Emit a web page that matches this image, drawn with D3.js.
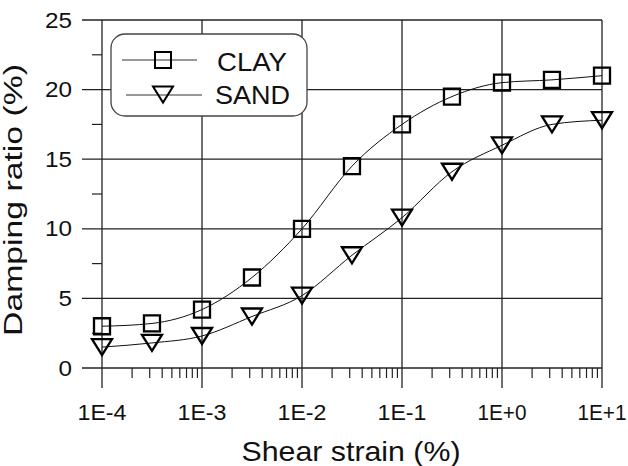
<!DOCTYPE html>
<html>
<head>
<meta charset="utf-8">
<script src="https://cdn.jsdelivr.net/npm/d3@7"></script>
<style>
  body { margin: 0; background: #fff; }
  svg text { font-family: "Liberation Sans", Arial, sans-serif; fill: #111; }
</style>
</head>
<body>
<svg id="chart"></svg>
<script>
// shear strain (%) at half-decade steps
var strain = [1e-4, 3.16e-4, 1e-3, 3.16e-3, 1e-2, 3.16e-2, 1e-1, 3.16e-1, 1, 3.16, 10];
var clay = [3.0, 3.2, 4.2, 6.5, 10.0, 14.5, 17.5, 19.5, 20.5, 20.7, 21.0];
var sand = [1.5, 1.8, 2.3, 3.7, 5.2, 8.1, 10.8, 14.1, 16.0, 17.5, 17.8];
var xTicks = [1e-4, 1e-3, 1e-2, 1e-1, 1, 10];
var xTickLabels = ["1E-4", "1E-3", "1E-2", "1E-1", "1E+0", "1E+1"];
var yTicks = [0, 5, 10, 15, 20, 25];
var seriesNames = ["CLAY", "SAND"];

var width = 628, height = 466;
var pLeft = 102, pRight = 602, pTop = 20, pBottom = 368;
var gridColor = "#222";

var svg = d3.select("#chart").attr("width", width).attr("height", height);

var x = d3.scaleLog().domain([1e-4, 10]).range([pLeft, pRight]);
var y = d3.scaleLinear().domain([0, 25]).range([pBottom, pTop]);

// minor x ticks 2..9 in every decade
var minorX = [];
for (var d = 0; d < xTicks.length - 1; d++) {
  for (var k = 2; k <= 9; k++) minorX.push(xTicks[d] * k);
}
var minorY = [2.5, 7.5, 12.5, 17.5, 22.5];

// grid
svg.append("g").selectAll("line").data(xTicks).enter().append("line")
  .attr("x1", function(d){ return x(d); }).attr("x2", function(d){ return x(d); })
  .attr("y1", pTop).attr("y2", pBottom + 20)
  .attr("stroke", gridColor).attr("stroke-width", 1.3);
svg.append("g").selectAll("line").data(yTicks).enter().append("line")
  .attr("x1", pLeft - 20).attr("x2", pRight)
  .attr("y1", function(d){ return y(d); }).attr("y2", function(d){ return y(d); })
  .attr("stroke", gridColor).attr("stroke-width", 1.3);

// minor ticks
svg.append("g").selectAll("line").data(minorX).enter().append("line")
  .attr("x1", function(d){ return x(d); }).attr("x2", function(d){ return x(d); })
  .attr("y1", pBottom).attr("y2", pBottom + 10)
  .attr("stroke", gridColor).attr("stroke-width", 1.2);
svg.append("g").selectAll("line").data(minorY).enter().append("line")
  .attr("x1", pLeft - 10).attr("x2", pLeft)
  .attr("y1", function(d){ return y(d); }).attr("y2", function(d){ return y(d); })
  .attr("stroke", gridColor).attr("stroke-width", 1.2);

// tick labels
svg.append("g").selectAll("text").data(xTicks).enter().append("text")
  .attr("x", function(d){ return x(d); }).attr("y", 420)
  .attr("text-anchor", "middle").attr("font-size", 21.5)
  .attr("textLength", 49).attr("lengthAdjust", "spacingAndGlyphs")
  .text(function(d, i){ return xTickLabels[i]; });
svg.append("g").selectAll("text").data(yTicks).enter().append("text")
  .attr("x", 72).attr("y", function(d){ return y(d) + 7.5; })
  .attr("text-anchor", "end").attr("font-size", 21.5)
  .attr("textLength", function(d){ return String(d).length * 13.5; })
  .attr("lengthAdjust", "spacingAndGlyphs")
  .text(function(d){ return d; });

// axis titles
svg.append("text")
  .attr("x", 351).attr("y", 461).attr("text-anchor", "middle")
  .attr("font-size", 28).attr("textLength", 219).attr("lengthAdjust", "spacingAndGlyphs")
  .text("Shear strain (%)");
svg.append("text")
  .attr("transform", "translate(22,200)rotate(-90)").attr("text-anchor", "middle")
  .attr("font-size", 26).attr("textLength", 272).attr("lengthAdjust", "spacingAndGlyphs")
  .text("Damping ratio (%)");

// curves
var line = d3.line()
  .x(function(d){ return x(d[0]); })
  .y(function(d){ return y(d[1]); })
  .curve(d3.curveMonotoneX);

var series = [clay, sand];
series.forEach(function(vals) {
  svg.append("path")
    .attr("d", line(strain.map(function(s, i){ return [s, vals[i]]; })))
    .attr("fill", "none").attr("stroke", "#111").attr("stroke-width", 1);
});

var square = d3.symbol().type(d3.symbolSquare).size(256);
function triPath(cx, cy) {
  return "M" + (cx - 10) + "," + (cy - 8) + "L" + (cx + 10) + "," + (cy - 8) + "L" + cx + "," + (cy + 8) + "Z";
}

svg.append("g").selectAll("path").data(clay).enter().append("path")
  .attr("transform", function(d, i){ return "translate(" + x(strain[i]) + "," + y(d) + ")"; })
  .attr("d", square())
  .attr("fill", "none").attr("stroke", "#000").attr("stroke-width", 2.3);
svg.append("g").selectAll("path").data(sand).enter().append("path")
  .attr("d", function(d, i){ return triPath(x(strain[i]), y(d)); })
  .attr("fill", "none").attr("stroke", "#000").attr("stroke-width", 2.3)
  .attr("stroke-linejoin", "miter");

// legend
var lg = svg.append("g");
lg.append("rect")
  .attr("x", 111).attr("y", 34).attr("width", 196).attr("height", 82)
  .attr("rx", 14).attr("ry", 14)
  .attr("fill", "#fff").attr("stroke", "#444").attr("stroke-width", 1.3);
lg.append("line").attr("x1", 122).attr("x2", 197).attr("y1", 60).attr("y2", 60)
  .attr("stroke", "#333").attr("stroke-width", 1);
lg.append("path").attr("transform", "translate(163,60)").attr("d", square())
  .attr("fill", "none").attr("stroke", "#000").attr("stroke-width", 2);
lg.append("line").attr("x1", 126).attr("x2", 202).attr("y1", 95).attr("y2", 95)
  .attr("stroke", "#333").attr("stroke-width", 1);
lg.append("path").attr("d", triPath(163, 94.5))
  .attr("fill", "none").attr("stroke", "#000").attr("stroke-width", 2);
lg.selectAll("text.lab").data(seriesNames).enter().append("text")
  .attr("class", "lab")
  .attr("x", function(d, i){ return i === 0 ? 217 : 215; })
  .attr("y", function(d, i){ return i === 0 ? 71 : 104; })
  .attr("font-size", 25)
  .attr("textLength", function(d, i){ return i === 0 ? 70 : 75; })
  .attr("lengthAdjust", "spacingAndGlyphs")
  .text(function(d){ return d; });
</script>
</body>
</html>
